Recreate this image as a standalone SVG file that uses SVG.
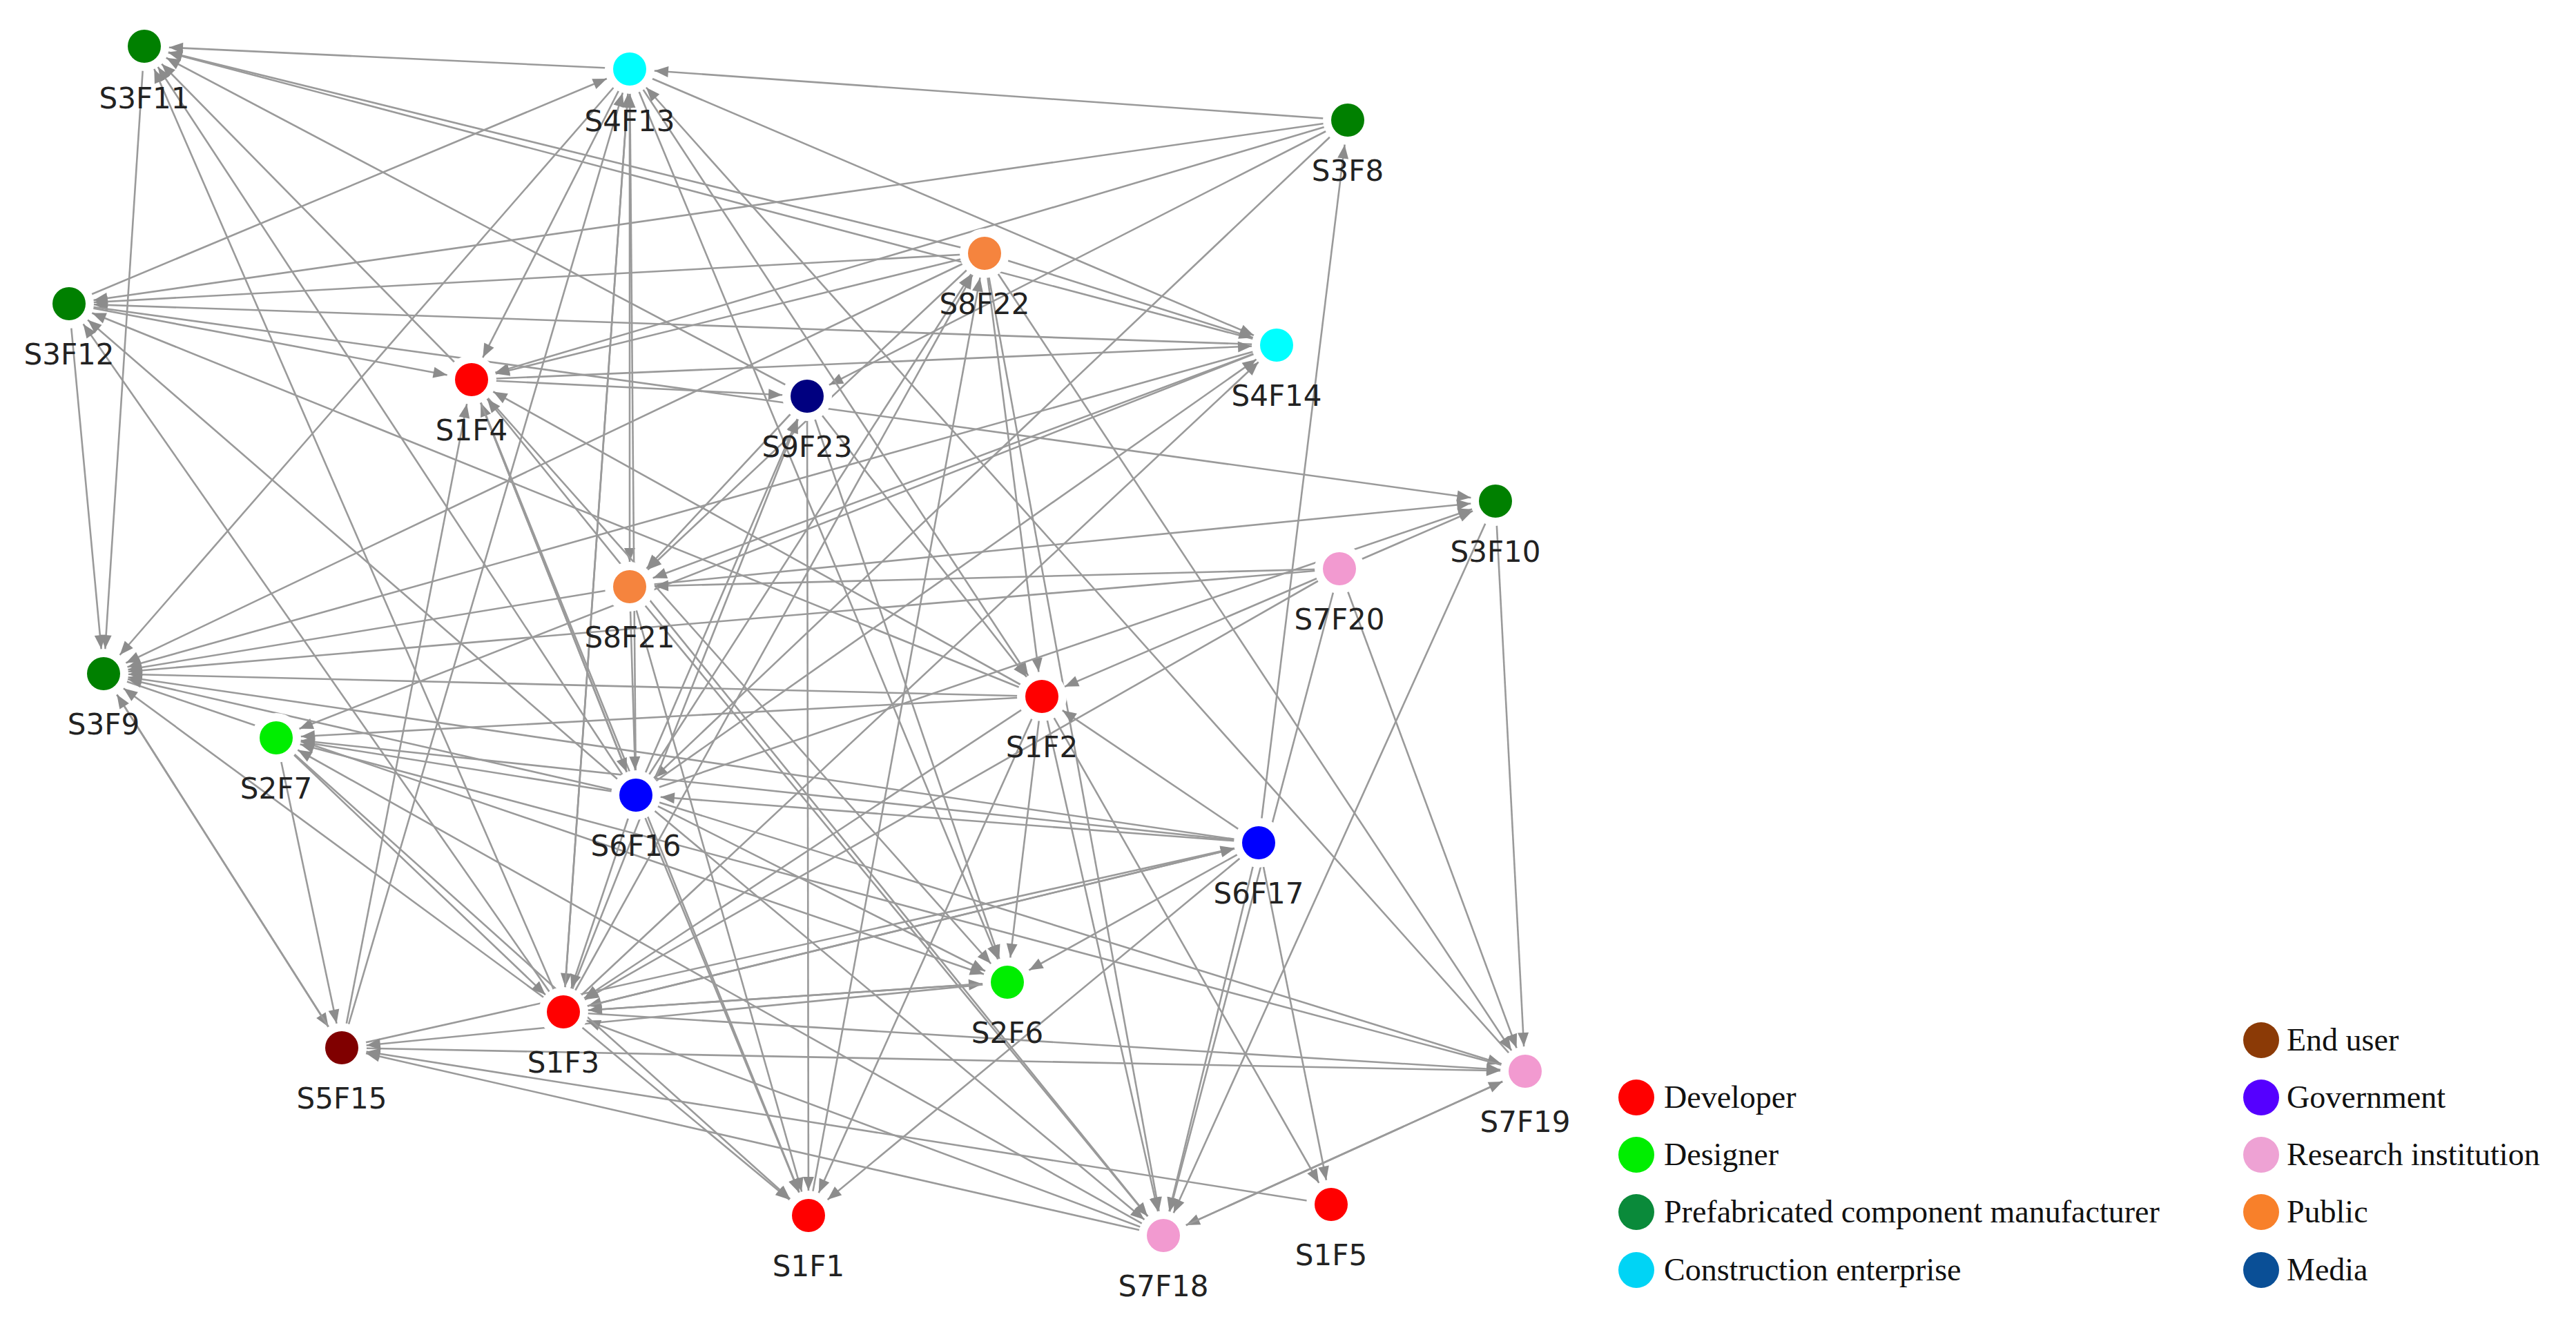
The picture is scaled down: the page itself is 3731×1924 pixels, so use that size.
<svg xmlns="http://www.w3.org/2000/svg" width="3731" height="1924" viewBox="0 0 3731 1924">
<style>
.e{stroke:#9a9a9a;stroke-width:2.6;fill:none;marker-end:url(#a)}
.h{fill:#fff}
.l{font-family:"DejaVu Sans",Verdana,sans-serif;font-size:42px;fill:#222;text-anchor:middle}
.g{font-family:"Liberation Serif","Times New Roman",serif;font-size:46px;fill:#111}
</style>
<defs>
<marker id="a" markerUnits="userSpaceOnUse" markerWidth="80" markerHeight="40" viewBox="-30 -15 80 30" refX="36" refY="0" orient="auto" overflow="visible">
<path d="M-20,-8 L0,0 L-20,8 Z" fill="#8c8c8c"/>
</marker>
</defs>
<rect width="3731" height="1924" fill="#fff"/>
<g id="connectors">
<path class="e" d="M912 100L209 67"/>
<path class="e" d="M1426 367L209 67"/>
<path class="e" d="M1849 500L209 67"/>
<path class="e" d="M1169 574L209 67"/>
<path class="e" d="M683 550L209 67"/>
<path class="e" d="M921 1152L209 67"/>
<path class="e" d="M816 1466L209 67"/>
<path class="e" d="M209 67L150 976"/>
<path class="e" d="M100 440L912 100"/>
<path class="e" d="M1952 174L912 100"/>
<path class="e" d="M1952 174L100 440"/>
<path class="e" d="M1952 174L683 550"/>
<path class="e" d="M1952 174L1169 574"/>
<path class="e" d="M1952 174L921 1152"/>
<path class="e" d="M1823 1221L1952 174"/>
<path class="e" d="M912 100L683 550"/>
<path class="e" d="M912 100L912 850"/>
<path class="e" d="M912 100L150 976"/>
<path class="e" d="M912 100L1849 500"/>
<path class="e" d="M912 100L1509 1009"/>
<path class="e" d="M912 100L1459 1423"/>
<path class="e" d="M912 100L816 1466"/>
<path class="e" d="M816 1466L912 100"/>
<path class="e" d="M495 1518L912 100"/>
<path class="e" d="M921 1152L912 100"/>
<path class="e" d="M2209 1552L912 100"/>
<path class="e" d="M100 440L683 550"/>
<path class="e" d="M100 440L150 976"/>
<path class="e" d="M1849 500L100 440"/>
<path class="e" d="M1509 1009L100 440"/>
<path class="e" d="M921 1152L100 440"/>
<path class="e" d="M816 1466L100 440"/>
<path class="e" d="M1426 367L683 550"/>
<path class="e" d="M1426 367L1849 500"/>
<path class="e" d="M1426 367L100 440"/>
<path class="e" d="M1426 367L912 850"/>
<path class="e" d="M1426 367L1509 1009"/>
<path class="e" d="M1426 367L1685 1790"/>
<path class="e" d="M1426 367L2209 1552"/>
<path class="e" d="M1426 367L150 976"/>
<path class="e" d="M816 1466L1426 367"/>
<path class="e" d="M921 1152L1426 367"/>
<path class="e" d="M1171 1761L1426 367"/>
<path class="e" d="M683 550L1169 574"/>
<path class="e" d="M683 550L1849 500"/>
<path class="e" d="M683 550L1171 1761"/>
<path class="e" d="M683 550L1459 1423"/>
<path class="e" d="M495 1518L683 550"/>
<path class="e" d="M921 1152L683 550"/>
<path class="e" d="M1685 1790L683 550"/>
<path class="e" d="M1509 1009L683 550"/>
<path class="e" d="M1169 574L1509 1009"/>
<path class="e" d="M1169 574L1171 1761"/>
<path class="e" d="M1169 574L912 850"/>
<path class="e" d="M1169 574L1459 1423"/>
<path class="e" d="M816 1466L1169 574"/>
<path class="e" d="M921 1152L1169 574"/>
<path class="e" d="M1849 500L912 850"/>
<path class="e" d="M1849 500L150 976"/>
<path class="e" d="M921 1152L1849 500"/>
<path class="e" d="M816 1466L1849 500"/>
<path class="e" d="M1849 500L400 1069"/>
<path class="e" d="M100 440L2166 726"/>
<path class="e" d="M1940 824L2166 726"/>
<path class="e" d="M921 1152L2166 726"/>
<path class="e" d="M912 850L2166 726"/>
<path class="e" d="M2166 726L2209 1552"/>
<path class="e" d="M2166 726L1685 1790"/>
<path class="e" d="M1940 824L912 850"/>
<path class="e" d="M1940 824L150 976"/>
<path class="e" d="M1940 824L1509 1009"/>
<path class="e" d="M1940 824L816 1466"/>
<path class="e" d="M1940 824L2209 1552"/>
<path class="e" d="M1940 824L1685 1790"/>
<path class="e" d="M912 850L1685 1790"/>
<path class="e" d="M912 850L150 976"/>
<path class="e" d="M912 850L1171 1761"/>
<path class="e" d="M912 850L921 1152"/>
<path class="e" d="M150 976L495 1518"/>
<path class="e" d="M150 976L1459 1423"/>
<path class="e" d="M1509 1009L150 976"/>
<path class="e" d="M921 1152L150 976"/>
<path class="e" d="M1823 1221L150 976"/>
<path class="e" d="M816 1466L150 976"/>
<path class="e" d="M495 1518L150 976"/>
<path class="e" d="M400 1069L495 1518"/>
<path class="e" d="M400 1069L816 1466"/>
<path class="e" d="M1509 1009L400 1069"/>
<path class="e" d="M921 1152L400 1069"/>
<path class="e" d="M1823 1221L400 1069"/>
<path class="e" d="M1685 1790L400 1069"/>
<path class="e" d="M921 1152L1171 1761"/>
<path class="e" d="M921 1152L1459 1423"/>
<path class="e" d="M921 1152L2209 1552"/>
<path class="e" d="M921 1152L816 1466"/>
<path class="e" d="M921 1152L1685 1790"/>
<path class="e" d="M683 550L921 1152"/>
<path class="e" d="M1823 1221L816 1466"/>
<path class="e" d="M1823 1221L1459 1423"/>
<path class="e" d="M1823 1221L1928 1745"/>
<path class="e" d="M1823 1221L1685 1790"/>
<path class="e" d="M1823 1221L1509 1009"/>
<path class="e" d="M1823 1221L921 1152"/>
<path class="e" d="M816 1466L1823 1221"/>
<path class="e" d="M495 1518L1823 1221"/>
<path class="e" d="M1509 1009L1459 1423"/>
<path class="e" d="M1509 1009L1685 1790"/>
<path class="e" d="M1509 1009L1171 1761"/>
<path class="e" d="M1509 1009L1928 1745"/>
<path class="e" d="M1509 1009L816 1466"/>
<path class="e" d="M816 1466L1459 1423"/>
<path class="e" d="M816 1466L1171 1761"/>
<path class="e" d="M816 1466L2209 1552"/>
<path class="e" d="M1459 1423L816 1466"/>
<path class="e" d="M1823 1221L1171 1761"/>
<path class="e" d="M495 1518L2209 1552"/>
<path class="e" d="M1928 1745L495 1518"/>
<path class="e" d="M1685 1790L495 1518"/>
<path class="e" d="M1459 1423L495 1518"/>
<path class="e" d="M1685 1790L816 1466"/>
<path class="e" d="M2209 1552L1685 1790"/>
<path class="e" d="M1685 1790L2209 1552"/>
<path class="e" d="M2209 1552L400 1069"/>
<path class="e" d="M400 1069L1171 1761"/>
</g>
<g id="nodes">
<g id="S3F11"><circle class="h" cx="209" cy="67" r="36"/><circle cx="209" cy="67" r="24" fill="#008000"/><text class="l" x="209" y="157">S3F11</text></g>
<g id="S4F13"><circle class="h" cx="912" cy="100" r="36"/><circle cx="912" cy="100" r="24" fill="#00ffff"/><text class="l" x="912" y="190">S4F13</text></g>
<g id="S3F8"><circle class="h" cx="1952" cy="174" r="36"/><circle cx="1952" cy="174" r="24" fill="#008000"/><text class="l" x="1952" y="262">S3F8</text></g>
<g id="S8F22"><circle class="h" cx="1426" cy="367" r="36"/><circle cx="1426" cy="367" r="24" fill="#f5843e"/><text class="l" x="1426" y="455">S8F22</text></g>
<g id="S3F12"><circle class="h" cx="100" cy="440" r="36"/><circle cx="100" cy="440" r="24" fill="#008000"/><text class="l" x="100" y="528">S3F12</text></g>
<g id="S4F14"><circle class="h" cx="1849" cy="500" r="36"/><circle cx="1849" cy="500" r="24" fill="#00ffff"/><text class="l" x="1849" y="588">S4F14</text></g>
<g id="S1F4"><circle class="h" cx="683" cy="550" r="36"/><circle cx="683" cy="550" r="24" fill="#ff0000"/><text class="l" x="683" y="638">S1F4</text></g>
<g id="S9F23"><circle class="h" cx="1169" cy="574" r="36"/><circle cx="1169" cy="574" r="24" fill="#000080"/><text class="l" x="1169" y="662">S9F23</text></g>
<g id="S3F10"><circle class="h" cx="2166" cy="726" r="36"/><circle cx="2166" cy="726" r="24" fill="#008000"/><text class="l" x="2166" y="814">S3F10</text></g>
<g id="S7F20"><circle class="h" cx="1940" cy="824" r="36"/><circle cx="1940" cy="824" r="24" fill="#f29ad0"/><text class="l" x="1940" y="912">S7F20</text></g>
<g id="S8F21"><circle class="h" cx="912" cy="850" r="36"/><circle cx="912" cy="850" r="24" fill="#f5843e"/><text class="l" x="912" y="938">S8F21</text></g>
<g id="S3F9"><circle class="h" cx="150" cy="976" r="36"/><circle cx="150" cy="976" r="24" fill="#008000"/><text class="l" x="150" y="1064">S3F9</text></g>
<g id="S1F2"><circle class="h" cx="1509" cy="1009" r="36"/><circle cx="1509" cy="1009" r="24" fill="#ff0000"/><text class="l" x="1509" y="1097">S1F2</text></g>
<g id="S2F7"><circle class="h" cx="400" cy="1069" r="36"/><circle cx="400" cy="1069" r="24" fill="#00ee00"/><text class="l" x="400" y="1157">S2F7</text></g>
<g id="S6F16"><circle class="h" cx="921" cy="1152" r="36"/><circle cx="921" cy="1152" r="24" fill="#0000ff"/><text class="l" x="921" y="1240">S6F16</text></g>
<g id="S6F17"><circle class="h" cx="1823" cy="1221" r="36"/><circle cx="1823" cy="1221" r="24" fill="#0000ff"/><text class="l" x="1823" y="1309">S6F17</text></g>
<g id="S2F6"><circle class="h" cx="1459" cy="1423" r="36"/><circle cx="1459" cy="1423" r="24" fill="#00ee00"/><text class="l" x="1459" y="1511">S2F6</text></g>
<g id="S1F3"><circle class="h" cx="816" cy="1466" r="36"/><circle cx="816" cy="1466" r="24" fill="#ff0000"/><text class="l" x="816" y="1554">S1F3</text></g>
<g id="S5F15"><circle class="h" cx="495" cy="1518" r="36"/><circle cx="495" cy="1518" r="24" fill="#800000"/><text class="l" x="495" y="1606">S5F15</text></g>
<g id="S7F19"><circle class="h" cx="2209" cy="1552" r="36"/><circle cx="2209" cy="1552" r="24" fill="#f29ad0"/><text class="l" x="2209" y="1640">S7F19</text></g>
<g id="S1F1"><circle class="h" cx="1171" cy="1761" r="36"/><circle cx="1171" cy="1761" r="24" fill="#ff0000"/><text class="l" x="1171" y="1849">S1F1</text></g>
<g id="S7F18"><circle class="h" cx="1685" cy="1790" r="36"/><circle cx="1685" cy="1790" r="24" fill="#f29ad0"/><text class="l" x="1685" y="1878">S7F18</text></g>
<g id="S1F5"><circle class="h" cx="1928" cy="1745" r="36"/><circle cx="1928" cy="1745" r="24" fill="#ff0000"/><text class="l" x="1928" y="1833">S1F5</text></g>
</g>
<g id="legend">
<circle cx="2370" cy="1590" r="26" fill="#ff0000"/><text class="g" x="2410" y="1605">Developer</text>
<circle cx="2370" cy="1673" r="26" fill="#00ee00"/><text class="g" x="2410" y="1688">Designer</text>
<circle cx="2370" cy="1756" r="26" fill="#0a8a3a"/><text class="g" x="2410" y="1771">Prefabricated component manufacturer</text>
<circle cx="2370" cy="1840" r="26" fill="#00d4f5"/><text class="g" x="2410" y="1855">Construction enterprise</text>
<circle cx="3275" cy="1507" r="26" fill="#8b3a06"/><text class="g" x="3312" y="1522">End user</text>
<circle cx="3275" cy="1590" r="26" fill="#5500ff"/><text class="g" x="3312" y="1605">Government</text>
<circle cx="3275" cy="1673" r="26" fill="#eea2d4"/><text class="g" x="3312" y="1688">Research institution</text>
<circle cx="3275" cy="1756" r="26" fill="#f8802a"/><text class="g" x="3312" y="1771">Public</text>
<circle cx="3275" cy="1840" r="26" fill="#0a4f96"/><text class="g" x="3312" y="1855">Media</text>
</g>
</svg>
